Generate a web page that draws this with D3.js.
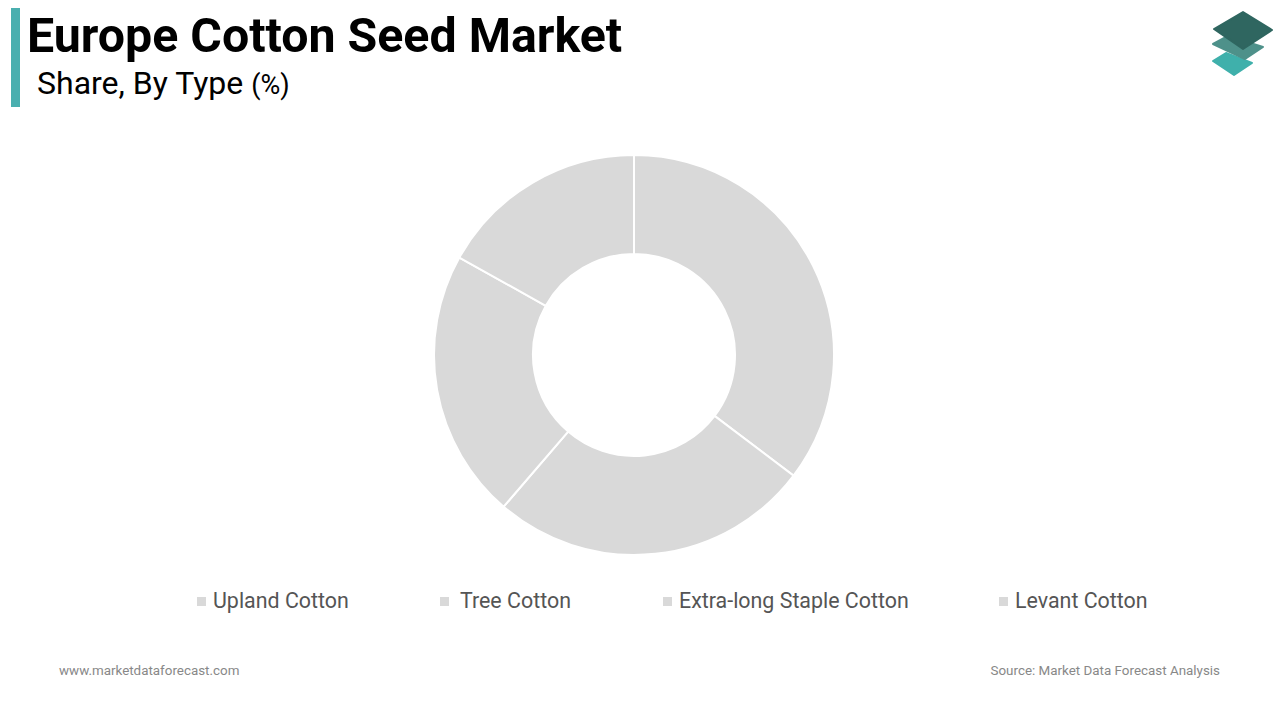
<!DOCTYPE html>
<html><head><meta charset="utf-8">
<script src="https://cdn.jsdelivr.net/npm/d3@7"></script>
<style>body{margin:0;background:#fff;font-family:Roboto,sans-serif}</style>
</head><body>
<svg id="c" width="1280" height="720"></svg>
<script>
const categories = ["Upland Cotton", "Tree Cotton", "Extra-long Staple Cotton", "Levant Cotton"];
const values = [35.3, 26.0, 21.8, 16.9];
const legendX = [197, 440, 663, 999];

const svg = d3.select("#c");
svg.append("rect").attr("x",0).attr("y",0).attr("width",1280).attr("height",720).attr("fill","#fff");

// title
svg.append("rect").attr("x",11).attr("y",8).attr("width",9).attr("height",99).attr("fill","#4aafaf");
svg.append("text").attr("x",27).attr("y",52).attr("font-size",48.3).attr("font-weight","bold").attr("fill","#000").text("Europe Cotton Seed Market");
const sub = svg.append("text").attr("x",37).attr("y",94).attr("font-size",32).attr("fill","#000");
sub.append("tspan").text("Share, By Type ");
sub.append("tspan").attr("font-size",27).text("(%)");

// logo
const lg = svg.append("g");
function poly(pts, fill){
  lg.append("path").attr("d","M"+pts.map(p=>p.join(",")).join("L")+"Z").attr("fill",fill)
    .attr("stroke",fill).attr("stroke-width",2).attr("stroke-linejoin","round");
}
poly([[1213,61],[1226,53],[1252,63],[1234,75]], "#3fb0ab");
poly([[1213,44],[1228,36],[1263,47],[1245,59]], "#4e918a");
poly([[1214,29],[1243,12],[1272,30],[1243,49]], "#2f6660");

// donut
const cx = 634, cy = 355, R = 200, r = 101;
const pie = d3.pie().sort(null).value(d=>d);
const arc = d3.arc().innerRadius(r).outerRadius(R);
svg.append("g").attr("transform",`translate(${cx},${cy})`)
  .selectAll("path").data(pie(values)).join("path")
  .attr("d",arc).attr("fill","#d9d9d9").attr("stroke","#fff").attr("stroke-width",2);

// legend
const leg = svg.append("g");
categories.forEach((c,i)=>{
  leg.append("rect").attr("x",legendX[i]).attr("y",597).attr("width",9).attr("height",9).attr("fill","#d9d9d9");
  leg.append("text").attr("x",legendX[i] + (i===1?20:16)).attr("y",608).attr("font-size",21.4).attr("fill","#555").text(c);
});

// footer
svg.append("text").attr("x",59).attr("y",675).attr("font-size",13.4).attr("fill","#888").text("www.marketdataforecast.com");
svg.append("text").attr("x",1220).attr("y",675).attr("font-size",13.4).attr("fill","#888").attr("text-anchor","end").text("Source: Market Data Forecast Analysis");
</script>
</body></html>
